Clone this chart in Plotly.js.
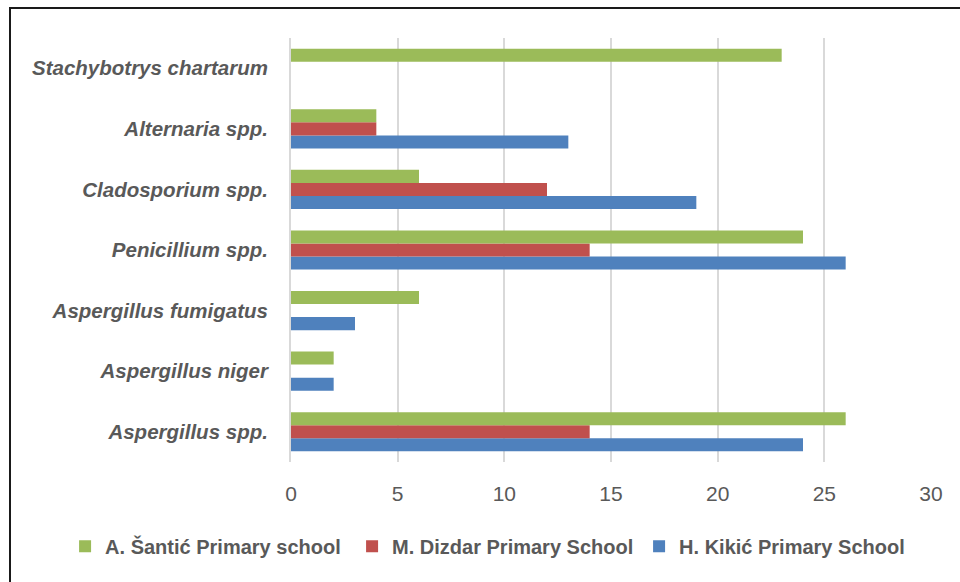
<!DOCTYPE html>
<html>
<head>
<meta charset="utf-8">
<script src="https://cdn.plot.ly/plotly-3.0.1.min.js"></script>
<style>
  html, body { margin: 0; padding: 0; background: #fff; }
  #wrap { position: relative; width: 960px; height: 582px; overflow: hidden; }
  #chart { width: 960px; height: 582px; }
  #frame { position: absolute; left: 9px; top: 7px; width: 1000px; height: 1000px;
           border-left: 2px solid #1a1a1a; border-top: 2px solid #1a1a1a; pointer-events: none; }
</style>
</head>
<body>
<div id="wrap">
  <div id="chart"></div>
  <div id="frame"></div>
</div>
<script>
const categories = ["Aspergillus spp.", "Aspergillus niger", "Aspergillus fumigatus",
                    "Penicillium spp.", "Cladosporium spp.", "Alternaria spp.", "Stachybotrys chartarum"];
const santic = [26, 2, 6, 24, 6, 4, 23];
const dizdar = [14, 0, 0, 14, 12, 4, 0];
const kikic  = [24, 2, 3, 26, 19, 13, 0];
const seriesNames = ["H. Kikić Primary School", "M. Dizdar Primary School", "A. Šantić Primary school"];
const xTicks = [0, 5, 10, 15, 20, 25, 30];

const colors = ["#4F81BD", "#C0504D", "#9BBB59"];
const seriesVals = [kikic, dizdar, santic];

const traces = seriesVals.map((vals, i) => ({
  type: "bar",
  orientation: "h",
  name: seriesNames[i],
  y: categories,
  x: vals,
  marker: { color: colors[i] },
  hoverinfo: "x+y+name"
}));

const layout = {
  width: 960, height: 582,
  margin: { l: 291, r: 29, t: 38, b: 120, autoexpand: false },
  paper_bgcolor: "#fff", plot_bgcolor: "#fff",
  barmode: "group",
  bargap: 0.354,
  bargroupgap: 0,
  showlegend: true,
  legend: {
    orientation: "h",
    traceorder: "reversed",
    x: -0.353, xanchor: "left",
    y: -0.153, yanchor: "top",
    font: { family: "Liberation Sans, Arial, sans-serif", size: 20, color: "#595959", weight: "bold" },
    entrywidth: 242, entrywidthmode: "pixels",
    itemwidth: 30
  },
  xaxis: {
    range: [0, 30],
    tickvals: xTicks,
    ticktext: xTicks.map(String),
    showgrid: true, gridcolor: "#d9d9d9", gridwidth: 2,
    zeroline: false, showline: false,
    ticks: "",
    ticklabelstandoff: 17,
    tickfont: { family: "Liberation Sans, Arial, sans-serif", size: 21, color: "#595959" },
    automargin: false,
    fixedrange: true
  },
  yaxis: {
    type: "category",
    categoryorder: "array", categoryarray: categories,
    range: [-0.5, 6.5],
    showgrid: false, zeroline: false,
    showline: true, linecolor: "#d9d9d9", linewidth: 2,
    ticks: "",
    ticklabelstandoff: 17,
    tickfont: { family: "Liberation Sans, Arial, sans-serif", size: 20.5, color: "#595959", weight: "bold", style: "italic" },
    automargin: false,
    fixedrange: true
  }
};

Plotly.newPlot("chart", traces, layout, { displayModeBar: false, staticPlot: true });
</script>
</body>
</html>
